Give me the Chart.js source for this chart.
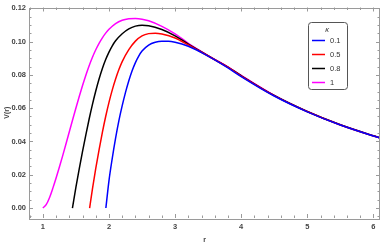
<!DOCTYPE html>
<html><head><meta charset="utf-8">
<script src="https://cdn.jsdelivr.net/npm/chart.js@4.4.0/dist/chart.umd.min.js"></script>
<style>html,body{margin:0;padding:0;background:#fff}</style>
</head><body>
<canvas id="c" width="381" height="244" style="width:381px;height:244px;display:block"></canvas>
<script>
// ---- data ----
const kappaLabels = ['0.1', '0.5', '0.8', '1'];
const seriesColors = ['#0000ff', '#ff0000', '#000000', '#ff00ff'];

const rK01 = [1.953,2.0,2.05,2.1,2.15,2.2,2.25,2.3,2.35,2.4,2.45,2.5,2.6,2.7,2.8,2.9,3.0,3.2,3.4,3.6,3.8,4.0,4.5,5.0,5.5,6.0,6.1];
const vK01 = [0,0.0165,0.030,0.042,0.0525,0.0615,0.0695,0.0765,0.0825,0.0874,0.0913,0.0943,0.0979,0.0996,0.1002,0.1002,0.0996,0.0972,0.0934,0.0890,0.0842,0.0790,0.0673,0.0578,0.0499,0.0433,0.0421];

const rK05 = [1.707,1.75,1.8,1.85,1.9,1.95,2.0,2.05,2.1,2.15,2.2,2.3,2.4,2.5,2.6,2.7,2.8,3.0,3.2,3.4,3.6,3.8,4.0,4.5,5.0,5.5,6.0,6.1];
const vK05 = [0,0.0115,0.0238,0.0350,0.0455,0.0550,0.0635,0.0710,0.0775,0.0832,0.0880,0.0952,0.1003,0.1034,0.1048,0.1051,0.1046,0.1022,0.0980,0.0936,0.0891,0.0845,0.0793,0.0675,0.0579,0.0499,0.0433,0.0421];

const rK08 = [1.447,1.5,1.55,1.6,1.65,1.7,1.75,1.8,1.85,1.9,1.95,2.0,2.05,2.1,2.2,2.3,2.4,2.5,2.6,2.8,3.0,3.2,3.4,3.6,3.8,4.0,4.5,5.0,5.5,6.0,6.1];
const vK08 = [0,0.0125,0.0235,0.0340,0.0440,0.0535,0.0623,0.0703,0.0775,0.0838,0.0892,0.0937,0.0975,0.1005,0.1047,0.1076,0.1093,0.1099,0.1096,0.1073,0.1035,0.0985,0.0938,0.0892,0.0847,0.0795,0.0676,0.0580,0.0500,0.0434,0.0422];

const rK1 = [1.0,1.05,1.1,1.15,1.2,1.25,1.3,1.35,1.4,1.45,1.5,1.55,1.6,1.65,1.7,1.75,1.8,1.85,1.9,1.95,2.0,2.1,2.2,2.3,2.4,2.5,2.6,2.8,3.0,3.2,3.4,3.6,3.8,4.0,4.5,5.0,5.5,6.0,6.1];
const vK1 = [0,0.0020,0.0062,0.0118,0.0180,0.0246,0.0315,0.0386,0.0458,0.0530,0.0601,0.0670,0.0736,0.0798,0.0855,0.0906,0.0951,0.0990,0.1023,0.1051,0.1074,0.1108,0.1128,0.1137,0.1139,0.1135,0.1125,0.1092,0.1047,0.0990,0.0940,0.0893,0.0848,0.0797,0.0677,0.0580,0.0500,0.0434,0.0422];

const xTickValues = [1, 2, 3, 4, 5, 6];
const yTickValues = [0, 0.02, 0.04, 0.06, 0.08, 0.10, 0.12];
const xTitle = 'r';
const yTitle = 'V(r)';
const legendTitle = 'κ';

// ---- build datasets ----
const rs = [rK01, rK05, rK08, rK1];
const vs = [vK01, vK05, vK08, vK1];
const datasets = kappaLabels.map((lab, i) => ({
  label: lab,
  data: rs[i].map((r, j) => ({x: r, y: vs[i][j]})),
  borderColor: seriesColors[i],
  backgroundColor: seriesColors[i],
  borderWidth: 1.5,
  pointRadius: 0,
  showLine: true,
  fill: false,
  cubicInterpolationMode: 'monotone'
}));

const frameColor = '#9a9a9a';
const labelColor = '#444444';

const framePlugin = {
  id: 'frame',
  afterDatasetsDraw(chart) {
    const {ctx, chartArea: a, scales: {x, y}} = chart;
    ctx.save();
    ctx.strokeStyle = frameColor;
    ctx.lineWidth = 1;
    ctx.strokeRect(Math.round(a.left) + 0.5, Math.round(a.top) + 0.5,
      Math.round(a.right - a.left) - 1, Math.round(a.bottom - a.top));
    ctx.beginPath();
    for (let k = 0; k <= 30; k++) {
      const v = Math.round((0.8 + k * 0.2) * 10) / 10;
      if (v < x.min || v > x.max) continue;
      const major = Math.abs(v - Math.round(v)) < 1e-6;
      const len = major ? 4 : 2.5;
      const px = Math.round(x.getPixelForValue(v)) + 0.5;
      ctx.moveTo(px, a.bottom); ctx.lineTo(px, a.bottom - len);
      ctx.moveTo(px, a.top); ctx.lineTo(px, a.top + len);
    }
    for (let k = -1; k <= 25; k++) {
      const v = k * 0.005;
      if (v < y.min || v > y.max) continue;
      const major = k % 4 === 0;
      const len = major ? 4 : 2.5;
      const py = Math.round(y.getPixelForValue(v)) + 0.5;
      ctx.moveTo(a.left, py); ctx.lineTo(a.left + len, py);
      ctx.moveTo(a.right, py); ctx.lineTo(a.right - len, py);
    }
    ctx.stroke();
    ctx.restore();
  },
  afterDraw(chart) {
    const ctx = chart.ctx;
    ctx.save();
    const bx = 308.5, by = 22.5, bw = 39, bh = 67, r = 3;
    ctx.fillStyle = '#ffffff';
    ctx.strokeStyle = '#555555';
    ctx.lineWidth = 1;
    ctx.beginPath();
    ctx.moveTo(bx + r, by);
    ctx.lineTo(bx + bw - r, by); ctx.quadraticCurveTo(bx + bw, by, bx + bw, by + r);
    ctx.lineTo(bx + bw, by + bh - r); ctx.quadraticCurveTo(bx + bw, by + bh, bx + bw - r, by + bh);
    ctx.lineTo(bx + r, by + bh); ctx.quadraticCurveTo(bx, by + bh, bx, by + bh - r);
    ctx.lineTo(bx, by + r); ctx.quadraticCurveTo(bx, by, bx + r, by);
    ctx.closePath(); ctx.fill(); ctx.stroke();
    ctx.fillStyle = '#333333';
    ctx.font = 'italic 7.5px "Liberation Sans", Arial, sans-serif';
    ctx.textAlign = 'center'; ctx.textBaseline = 'middle';
    ctx.fillText(legendTitle, 327, 30);
    ctx.font = '7.5px "Liberation Sans", Arial, sans-serif';
    ctx.textAlign = 'left';
    chart.data.datasets.forEach((ds, i) => {
      const yy = 40.5 + i * 14;
      ctx.strokeStyle = ds.borderColor; ctx.lineWidth = 1.5;
      ctx.beginPath(); ctx.moveTo(312, yy); ctx.lineTo(325, yy); ctx.stroke();
      ctx.fillStyle = '#333333';
      ctx.fillText(ds.label, 330, yy + 0.5);
    });
    ctx.restore();
  }
};

const tickFont = {family: '"Liberation Sans", Arial, sans-serif', size: 7.5, weight: 'bold'};

new Chart(document.getElementById('c'), {
  type: 'scatter',
  data: {datasets},
  plugins: [framePlugin],
  options: {
    responsive: false,
    animation: false,
    devicePixelRatio: 1,
    layout: {padding: {top: 2, right: 1, left: 0, bottom: 0}},
    plugins: {legend: {display: false}, tooltip: {enabled: false}},
    scales: {
      x: {
        type: 'linear', min: 0.79, max: 6.1,
        grid: {display: false, drawTicks: false},
        border: {display: false},
        afterBuildTicks: s => { s.ticks = xTickValues.map(v => ({value: v})); },
        afterFit: s => { s.height = 26; },
        ticks: {font: tickFont, color: labelColor, padding: 4, autoSkip: false, maxRotation: 0,
          callback: v => String(v)},
        title: {display: true, text: xTitle, color: labelColor,
          font: {family: '"Liberation Sans", Arial, sans-serif', size: 7, weight: 'bold'},
          padding: {top: 0, bottom: 0}}
      },
      y: {
        type: 'linear', min: -0.006, max: 0.1205,
        grid: {display: false, drawTicks: false},
        border: {display: false},
        afterBuildTicks: s => { s.ticks = yTickValues.map(v => ({value: v})); },
        afterFit: s => { s.width = 29; },
        ticks: {font: tickFont, color: labelColor, padding: 3, autoSkip: false,
          callback: v => Number(v).toFixed(2)},
        title: {display: true, text: yTitle, color: labelColor,
          font: {family: '"Liberation Sans", Arial, sans-serif', size: 7, weight: 'bold'},
          padding: {top: 3, bottom: 0}}
      }
    }
  }
});
</script>
</body></html>
